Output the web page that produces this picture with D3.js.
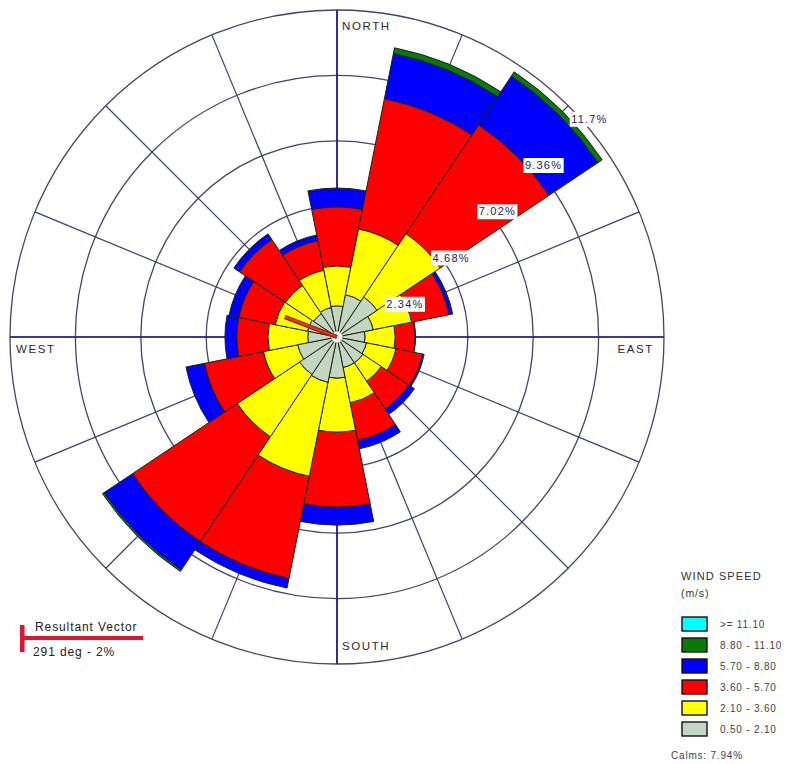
<!DOCTYPE html>
<html>
<head>
<meta charset="utf-8">
<script src="https://cdn.jsdelivr.net/npm/d3@7"></script>
<style>
  html, body { margin: 0; padding: 0; background: #fff; }
  svg { display: block; }
  text { font-family: "Liberation Sans", Arial, sans-serif; }
</style>
</head>
<body>
<svg id="rose" width="787" height="764"></svg>
<script>
// Wind direction sectors (blowing from), clockwise from north
const directions = ["N","NNE","NE","ENE","E","ESE","SE","SSE","S","SSW","SW","WSW","W","WNW","NW","NNW"];

// Frequency (%) of each wind speed class per direction sector
const freq_050_210 = [1.11, 1.54, 1.72, 1.32, 1.00, 1.07, 1.11, 1.11, 1.47, 1.65, 1.61, 1.43, 1.04, 1.07, 1.00, 1.07];
const freq_210_360 = [1.43, 2.40, 2.72, 1.40, 1.08, 1.08, 0.79, 1.29, 1.93, 3.43, 2.68, 1.25, 1.43, 1.18, 1.22, 1.36];
const freq_360_570 = [2.11, 4.75, 4.68, 1.36, 0.71, 0.96, 1.18, 1.36, 2.68, 3.72, 4.51, 2.15, 1.11, 1.33, 1.97, 1.08];
const freq_570_880 = [0.68, 1.65, 2.11, 0.14, 0.02, 0.07, 0.25, 0.32, 0.65, 0.36, 1.22, 0.68, 0.43, 0.36, 0.25, 0.21];
const freq_880_1110 = [0.00, 0.21, 0.18, 0.00, 0.00, 0.00, 0.00, 0.00, 0.00, 0.00, 0.07, 0.00, 0.00, 0.00, 0.00, 0.00];
const freq_ge_1110 = [0, 0, 0, 0, 0, 0, 0, 0, 0, 0, 0, 0, 0, 0, 0, 0];

// Speed classes, slowest first (stacking order from the centre outward)
const speedLabels = ["0.50 - 2.10", "2.10 - 3.60", "3.60 - 5.70", "5.70 - 8.80", "8.80 - 11.10", ">= 11.10"];
const speedColors = ["#c2d6c2", "#ffff00", "#ff0000", "#0000ff", "#087a08", "#00ffff"];
const speedSeries = [freq_050_210, freq_210_360, freq_360_570, freq_570_880, freq_880_1110, freq_ge_1110];

// Frequency circles and their labels
const ringValues = [2.34, 4.68, 7.02, 9.36, 11.7];
const ringLabels = ["2.34%", "4.68%", "7.02%", "9.36%", "11.7%"];

const calmsLabel = "Calms: 7.94%";
const resultantDeg = 291;
const resultantPct = 2;

const svg = d3.select("#rose");
const cx = 337, cy = 337, R = 327;
const rScale = d3.scaleLinear().domain([0, 11.7]).range([0, R]);
const sector = 2 * Math.PI / directions.length;
const angleOf = i => i * sector;

const g = svg.append("g").attr("transform", `translate(${cx},${cy})`);

// Grid: frequency circles
g.selectAll("circle.ring").data(ringValues).join("circle")
  .attr("class", "ring")
  .attr("r", d => rScale(d))
  .attr("fill", "none")
  .attr("stroke", "#44446a")
  .attr("stroke-width", 1.3);

// Grid: 16 direction spokes through the sector centres
g.selectAll("line.spoke").data(directions).join("line")
  .attr("class", "spoke")
  .attr("x1", 0).attr("y1", 0)
  .attr("x2", (d, i) => R * Math.sin(angleOf(i)))
  .attr("y2", (d, i) => -R * Math.cos(angleOf(i)))
  .attr("stroke", "#3c3c70")
  .attr("stroke-width", 1.2);

// Cardinal axes
g.append("line").attr("x1", 0).attr("y1", -R).attr("x2", 0).attr("y2", R)
  .attr("stroke", "#1c1c7a").attr("stroke-width", 1.6);
g.append("line").attr("x1", -R).attr("y1", 0).attr("x2", R).attr("y2", 0)
  .attr("stroke", "#1c1c7a").attr("stroke-width", 1.6);

// Stacked petals
const arc = d3.arc();
const petals = [];
directions.forEach((dir, i) => {
  let cum = 0;
  speedSeries.forEach((series, k) => {
    const v = series[i];
    if (v <= 0) return;
    petals.push({
      dir, k,
      innerRadius: rScale(cum),
      outerRadius: rScale(cum + v),
      startAngle: angleOf(i) - sector / 2,
      endAngle: angleOf(i) + sector / 2
    });
    cum += v;
  });
});
// Draw outer classes first so inner segment outlines stay on top
petals.sort((a, b) => b.k - a.k);
g.selectAll("path.petal").data(petals).join("path")
  .attr("class", "petal")
  .attr("d", d => arc(d))
  .attr("fill", d => speedColors[d.k])
  .attr("stroke", "#1a2412")
  .attr("stroke-width", 1)
  .attr("stroke-linejoin", "round");

// Calm circle
g.append("circle").attr("r", 5.5).attr("fill", "#fff")
  .attr("stroke", "#bdbdbd").attr("stroke-width", 0.8);

// Resultant vector
const ra = resultantDeg * Math.PI / 180;
const rl = rScale(resultantPct);
g.append("line").attr("x1", 0).attr("y1", 0)
  .attr("x2", rl * Math.sin(ra)).attr("y2", -rl * Math.cos(ra))
  .attr("stroke", "#6a2410").attr("stroke-width", 4.2);
g.append("line").attr("x1", 0).attr("y1", 0)
  .attr("x2", rl * Math.sin(ra)).attr("y2", -rl * Math.cos(ra))
  .attr("stroke", "#ff2a10").attr("stroke-width", 2.4);

// Ring labels on white boxes along the north-east diagonal
const lab = g.selectAll("g.rlab").data(ringValues).join("g").attr("class", "rlab")
  .attr("transform", d => {
    const r = rScale(d);
    return `translate(${r * Math.SQRT1_2},${-r * Math.SQRT1_2})`;
  });
lab.each(function(d, i) {
  const el = d3.select(this);
  const t = el.append("text").attr("x", 3).attr("y", 17)
    .attr("font-size", 11).attr("letter-spacing", 1.2)
    .attr("fill", "#1d1d50").text(ringLabels[i]);
  const bb = t.node().getBBox();
  el.insert("rect", "text")
    .attr("x", bb.x - 1.5).attr("y", 6)
    .attr("width", bb.width + 3).attr("height", 15)
    .attr("fill", "#fff");
});

// Compass labels
const compass = svg.append("g").attr("font-size", 11.5).attr("letter-spacing", 1.6).attr("fill", "#2b2b2b");
compass.append("text").attr("x", cx + 5).attr("y", 30).text("NORTH");
compass.append("text").attr("x", cx + 5).attr("y", 650).text("SOUTH");
compass.append("text").attr("x", 16).attr("y", 353).text("WEST");
compass.append("text").attr("x", 654).attr("y", 353).attr("text-anchor", "end").text("EAST");

// Legend: wind speed classes
const leg = svg.append("g").attr("fill", "#333");
leg.append("text").attr("x", 681).attr("y", 580).attr("font-size", 11).attr("letter-spacing", 1.1).text("WIND SPEED");
leg.append("text").attr("x", 681).attr("y", 597).attr("font-size", 10.5).attr("letter-spacing", 0.9).text("(m/s)");

const legendOrder = d3.range(speedLabels.length).reverse();
const ly = d3.scalePoint().domain(legendOrder).range([617, 722]);
const items = leg.selectAll("g.item").data(legendOrder).join("g").attr("class", "item")
  .attr("transform", k => `translate(682,${ly(k)})`);
items.append("rect").attr("width", 25).attr("height", 14)
  .attr("fill", k => speedColors[k]).attr("stroke", "#111").attr("stroke-width", 1.4);
items.append("text").attr("x", 38).attr("y", 11).attr("font-size", 10)
  .attr("letter-spacing", 0.8).attr("fill", "#444").text(k => speedLabels[k]);

leg.append("text").attr("x", 671).attr("y", 759).attr("font-size", 10)
  .attr("letter-spacing", 0.8).attr("fill", "#444").text(calmsLabel);

// Legend: resultant vector
const rv = svg.append("g");
rv.append("rect").attr("x", 20).attr("y", 625).attr("width", 4.5).attr("height", 27).attr("fill", "#e0142c");
rv.append("rect").attr("x", 21).attr("y", 636).attr("width", 122).attr("height", 4).attr("fill", "#e0142c");
rv.append("text").attr("x", 35).attr("y", 631).attr("font-size", 12).attr("letter-spacing", 0.9)
  .attr("fill", "#222").text("Resultant Vector");
rv.append("text").attr("x", 33).attr("y", 656).attr("font-size", 12).attr("letter-spacing", 0.9)
  .attr("fill", "#222").text(`${resultantDeg} deg - ${resultantPct}%`);
</script>
</body>
</html>
